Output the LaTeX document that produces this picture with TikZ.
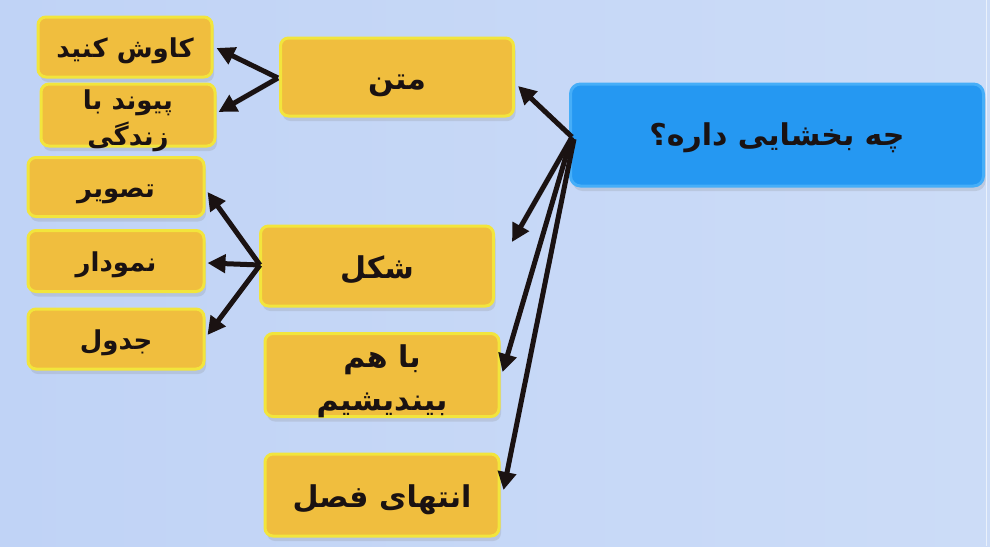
\documentclass[tikz,border=0pt]{standalone}
\usepackage{fontspec}
\usetikzlibrary{arrows.meta,shadows}
\TeXXeTstate=1
\newfontfamily\arabicfont[Script=Arabic]{DejaVu Sans}
\definecolor{bgA}{HTML}{C0D3F6}
\definecolor{bgB}{HTML}{CCDCF7}
\definecolor{ybody}{HTML}{F0BE3E}
\definecolor{yedge}{HTML}{F2E53C}
\definecolor{bbody}{HTML}{2598F2}
\definecolor{bedge}{HTML}{46AEF8}
\definecolor{ink}{HTML}{1A1212}
\tikzset{
  ybox/.style={rectangle, rounded corners=8pt, fill=ybody, draw=yedge, line width=3pt,
    text=ink, inner sep=0pt, align=center,
    font=\arabicfont\bfseries\fontsize{26}{36}\selectfont,
    drop shadow={opacity=0.2, shadow xshift=2pt, shadow yshift=-5pt}},
  ybig/.style={ybox, font=\arabicfont\bfseries\fontsize{30}{43}\selectfont},
  oneS/.style={text height=20pt, text depth=0pt},
  oneB/.style={text height=24pt, text depth=0pt},
  bbox/.style={rectangle, rounded corners=10pt, fill=bbody, draw=bedge, line width=3pt,
    text=ink, inner sep=0pt, align=center,
    font=\arabicfont\bfseries\fontsize{30}{34}\selectfont,
    text height=20pt, text depth=0pt,
    drop shadow={opacity=0.2, shadow xshift=2pt, shadow yshift=-5pt}},
  arr/.style={draw=ink, line width=5pt, -{Triangle[length=18pt,width=18pt]}}
}
\begin{document}
\begin{tikzpicture}[x=1pt,y=-1pt]
\shade[left color=bgA, right color=bgB] (0,0) rectangle (990,546);
\useasboundingbox (0,0) rectangle (990,546);
\draw[white, opacity=0.6, line width=1pt] (986,0) -- (986,546);

\node[bbox, minimum width=413pt, minimum height=102pt] (q) at (777,135) {\beginR چه بخشایی داره؟\endR};

\node[ybig, oneB, minimum width=233pt, minimum height=78pt] (t) at (397,77) {\beginR متن\endR};
\node[ybig, oneB, minimum width=233pt, minimum height=80pt] (s) at (377,266) {\beginR شکل\endR};
\node[ybig, text height=70pt, text depth=0pt, minimum width=234pt, minimum height=83pt] (b) at (382,375) {\beginR با هم\endR\\\beginR بیندیشیم\endR};
\node[ybig, oneB, minimum width=234pt, minimum height=82pt] (e) at (382,495) {\beginR انتهای فصل\endR};

\node[ybox, oneS, minimum width=174pt, minimum height=60pt] (k) at (125,47) {\beginR کاوش کنید\endR};
\node[ybox, text height=60pt, text depth=0pt, minimum width=174pt, minimum height=62pt] (p) at (128,115) {\beginR پیوند با\endR\\\beginR زندگی\endR};
\node[ybox, oneS, minimum width=176pt, minimum height=59pt] (tz) at (116,187) {\beginR تصویر\endR};
\node[ybox, oneS, minimum width=176pt, minimum height=61pt] (n) at (116,261) {\beginR نمودار\endR};
\node[ybox, oneS, minimum width=176pt, minimum height=60pt] (j) at (116,339) {\beginR جدول\endR};

\draw[arr] ([shift={(3,2)}]q.west) -- ([shift={(3,9)}]t.east);
\draw[arr] ([shift={(3,2)}]q.west) -- ([shift={(17,-24)}]s.east);
\draw[arr] ([shift={(2,4)}]q.west) -- ([shift={(2,-3)}]b.east);
\draw[arr] ([shift={(5,4)}]q.west) -- ([shift={(3,-5)}]e.east);

\draw[arr] ([shift={(-1,1)}]t.west) -- ([shift={(3,1)}]k.east);
\draw[arr] ([shift={(-1,1)}]t.west) -- ([shift={(2,-3)}]p.east);

\draw[arr] ([shift={(1,-1)}]s.west) -- ([shift={(2,5)}]tz.east);
\draw[arr] ([shift={(1,-1)}]s.west) -- ([shift={(2,2)}]n.east);
\draw[arr] ([shift={(1,-1)}]s.west) -- ([shift={(2,-4)}]j.east);
\end{tikzpicture}
\end{document}
